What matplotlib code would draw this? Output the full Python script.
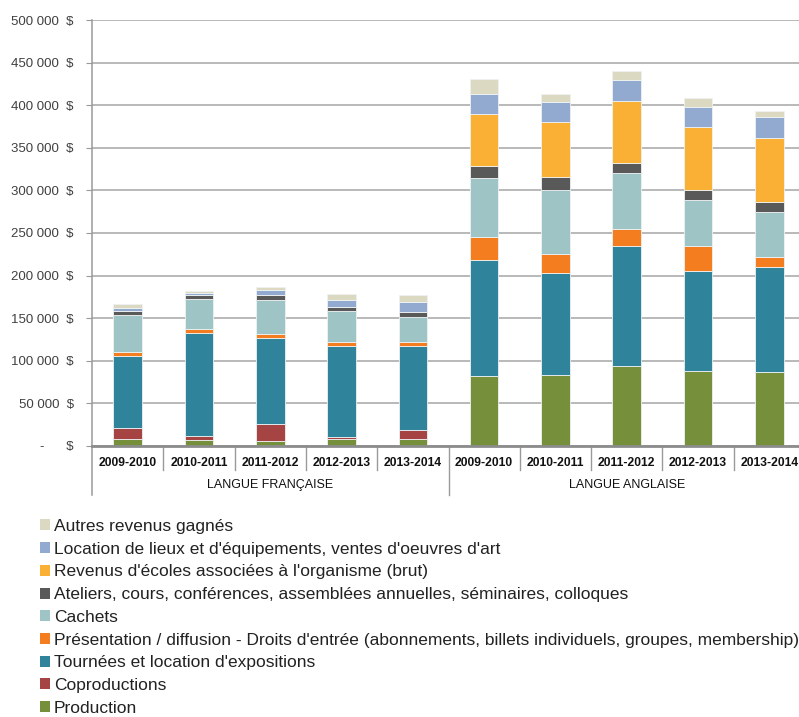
import numpy as np
import matplotlib.pyplot as plt
from matplotlib.patches import Patch

plt.rcParams['font.family'] = ['Liberation Sans', 'DejaVu Sans']

# Revenus gagnés par langue et par année
annees = ['2009-2010', '2010-2011', '2011-2012', '2012-2013', '2013-2014']
groupes = ['LANGUE FRANÇAISE', 'LANGUE ANGLAISE']
categories = annees + annees

# séries, du bas vers le haut de la pile (5 années FR puis 5 années EN)
production = [8600, 6600, 6300, 7800, 7800, 81700, 83300, 93500, 88400, 86400]
coproductions = [12500, 4700, 19900, 3200, 10600, 800, 0, 0, 0, 0]
tournees = [84100, 121300, 100500, 106300, 98900, 136000, 120100, 141700, 116900, 123600]
presentation = [5100, 4700, 4700, 4700, 4700, 27000, 22100, 19600, 29900, 12100]
cachets = [43400, 35200, 39900, 36800, 29400, 68900, 74400, 65300, 53200, 52600]
ateliers = [4700, 4700, 5900, 4300, 5900, 14000, 16000, 12500, 12500, 12200]
ecoles = [0, 0, 0, 0, 0, 61800, 64200, 72400, 73600, 74700]
location = [3200, 1900, 5900, 8200, 11300, 23100, 23400, 24700, 23500, 24600]
autres = [4600, 2800, 3100, 6700, 8200, 17200, 9400, 10500, 10500, 7100]

series = [
    ("Production", production, '#768f3b'),
    ("Coproductions", coproductions, '#a54443'),
    ("Tournées et location d'expositions", tournees, '#2f849b'),
    ("Présentation / diffusion - Droits d'entrée (abonnements, billets individuels, groupes, membership)",
     presentation, '#f47d20'),
    ("Cachets", cachets, '#9fc4c6'),
    ("Ateliers, cours, conférences, assemblées annuelles, séminaires, colloques", ateliers, '#595959'),
    ("Revenus d'écoles associées à l'organisme (brut)", ecoles, '#f9b034'),
    ("Location de lieux et d'équipements, ventes d'oeuvres d'art", location, '#92a9d0'),
    ("Autres revenus gagnés", autres, '#dcd9c3'),
]

W, H = 799, 717
fig = plt.figure(figsize=(W / 100, H / 100), dpi=100)
ax = fig.add_axes([92 / W, 1 - 446 / H, 713 / W, 426 / H])

x = np.arange(len(categories))
bas = np.zeros(len(categories))
handles = []
for nom, vals, couleur in series:
    vals = np.array(vals, dtype=float)
    ax.bar(x, vals, 0.40, bottom=bas, color=couleur, edgecolor='#eef2f2', linewidth=0.6, zorder=3)
    bas += vals
    handles.append(Patch(facecolor=couleur, edgecolor='none', label=nom))

ax.set_xlim(-0.5, 9.5)
ax.set_ylim(0, 500000)

yt = np.arange(0, 500001, 50000)
ax.set_yticks(yt)
lab = []
for v in yt:
    if v == 0:
        lab.append('-      $')
    else:
        lab.append(f'{v:,}'.replace(',', ' ') + '  $')
ax.set_yticklabels(lab, fontsize=9.5, color='#404040')
ax.tick_params(axis='y', length=4, color='#999999', pad=9)
ax.grid(axis='y', color='#b3b3b3', linewidth=1.3, zorder=0)

ax.set_xticks([])
for s in ['top', 'right']:
    ax.spines[s].set_visible(False)
ax.spines['left'].set_color('#9a9a9a')
ax.spines['left'].set_linewidth(1.1)
ax.spines['bottom'].set_color('#8c8c8c')
ax.spines['bottom'].set_linewidth(2)
ax.spines['bottom'].set_zorder(4)

tr = ax.get_xaxis_transform()
for i, a in enumerate(categories):
    ax.text(i, -17 / 426, a, transform=tr, ha='center', va='center',
            fontsize=8.7, fontweight='bold', color='#111111')
for i in range(1, 10):
    bas_y = -49 / 426 if i == 5 else -24 / 426
    ax.plot([i - 0.5, i - 0.5], [0, bas_y], transform=tr, color='#9a9a9a',
            linewidth=1, clip_on=False)
ax.plot([-0.5, -0.5], [0, -49 / 426], transform=tr, color='#9a9a9a', linewidth=1.1, clip_on=False)
for g, nom in enumerate(groupes):
    ax.text(2 + 5 * g, -39 / 426, nom, transform=tr, ha='center', va='center',
            fontsize=9, color='#111111')

fig.legend(handles=handles[::-1], loc='upper left', bbox_to_anchor=(40 / W, 1 - 519 / H),
           frameon=False, fontsize=12.5, handlelength=0.6, handleheight=0.6,
           handletextpad=0.2, labelspacing=0.445, borderpad=0, borderaxespad=0,
           labelcolor='#222222')

fig.savefig('out.png', dpi=100)
